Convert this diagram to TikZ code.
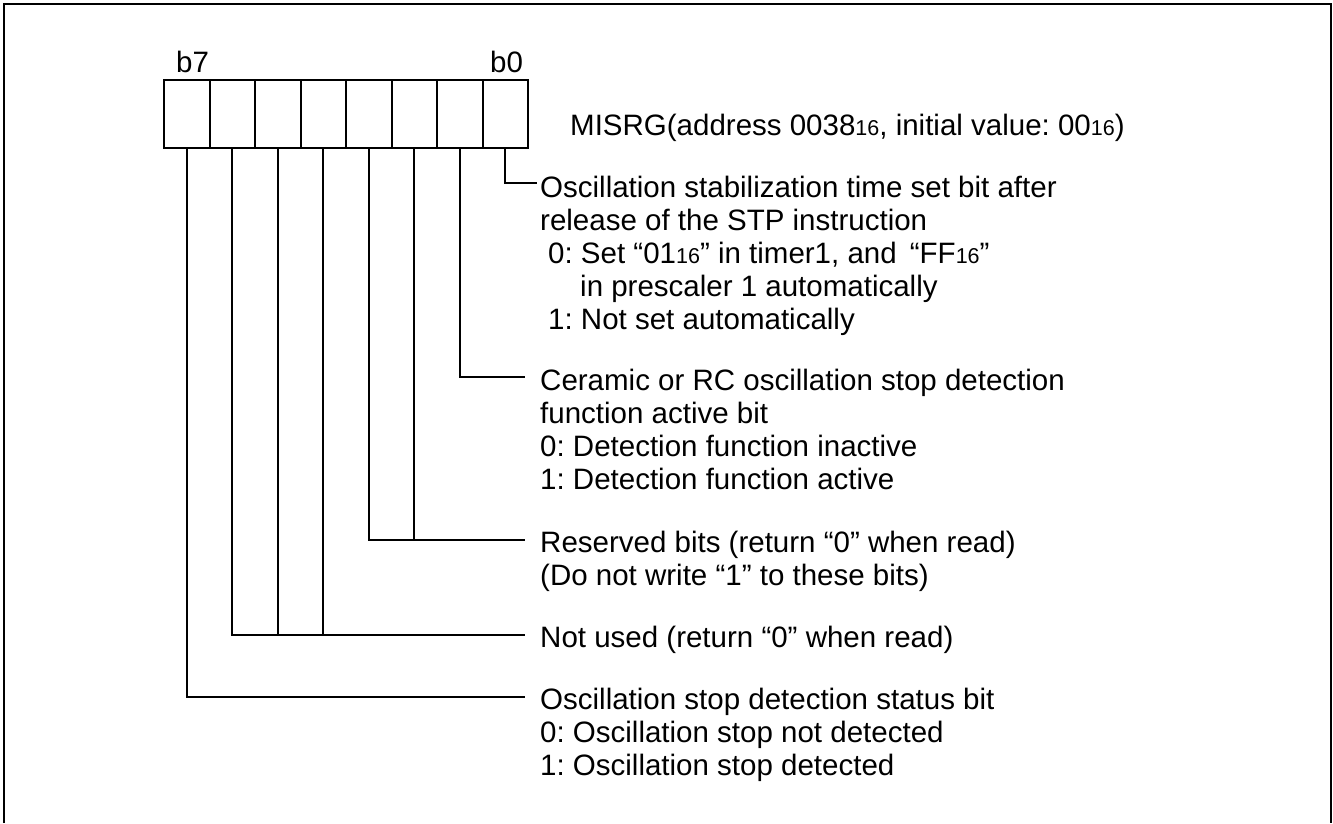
\documentclass[tikz,border=0pt]{standalone}
\usepackage{fontspec}
\setmainfont{Liberation Sans}
\frenchspacing
\newcommand\hexs[1]{{\fontsize{21.5}{21.5}\selectfont #1}}
\begin{document}
\begin{tikzpicture}[x=1pt,y=-1pt,
  lbl/.style={anchor=base west,inner sep=0pt,font=\fontsize{29.5}{33}\selectfont},
  cellbox/.style={draw,line width=2pt,minimum width=45.5pt,minimum height=68pt,inner sep=0pt,anchor=north west},
  conn/.style={line width=1.8pt},
  frameline/.style={line width=2.2pt}]
\useasboundingbox (0,0) rectangle (1333,823);
% frame (open at the bottom)
\draw[frameline] (4,823) -- (4,4) -- (1331,4) -- (1331,823);
% register cells
\foreach \i in {0,...,7}{
  \node[cellbox] (c\i) at ({163+45.5*(7-\i)},79) {};
}
\node[lbl] (lb7) at (176,72) {b7};
\node[lbl] (lb0) at (490,72) {b0};
\node[lbl] (title) at (570,135) {MISRG(address 0038\hexs{16}, initial value: 00\hexs{16})};
% block b0
\node[lbl] (t1) at (540,197) {Oscillation stabilization time set bit after};
\node[lbl] (t2) at (540,230) {release of the STP instruction};
\node[lbl] (t3) at (548,263) {0: Set “01\hexs{16}” in timer1, and \,“FF\hexs{16}”};
\node[lbl] (t4) at (580,296) {in prescaler 1 automatically};
\node[lbl] (t5) at (548,329) {1: Not set automatically};
% block b1
\node[lbl] (u1) at (540,390) {Ceramic or RC oscillation stop detection};
\node[lbl] (u2) at (540,423) {function active bit};
\node[lbl] (u3) at (540,456) {0: Detection function inactive};
\node[lbl] (u4) at (540,489) {1: Detection function active};
% block b2-b3
\node[lbl] (v1) at (540,552) {Reserved bits (return “0” when read)};
\node[lbl] (v2) at (540,585) {(Do not write “1” to these bits)};
% block b4-b6
\node[lbl] (w1) at (540,647) {Not used (return “0” when read)};
% block b7
\node[lbl] (x1) at (540,709) {Oscillation stop detection status bit};
\node[lbl] (x2) at (540,742) {0: Oscillation stop not detected};
\node[lbl] (x3) at (540,775) {1: Oscillation stop detected};
% connector end points
\coordinate (e0) at ([shift={(-3,-14)}]t1.base west);
\coordinate (e1) at ([shift={(-15,-13)}]u1.base west);
\coordinate (e2) at ([shift={(-15,-12)}]v1.base west);
\coordinate (e4) at ([shift={(-15,-12)}]w1.base west);
\coordinate (e7) at ([shift={(-15,-12)}]x1.base west);
% connectors
\draw[conn] (c0.south) |- (e0);
\draw[conn] (c1.south) |- (e1);
\draw[conn] (c3.south) |- (e2);
\draw[conn] (c2.south) -- (c2.south |- e2);
\draw[conn] (c6.south) |- (e4);
\draw[conn] (c5.south) -- (c5.south |- e4);
\draw[conn] (c4.south) -- (c4.south |- e4);
\draw[conn] (c7.south) |- (e7);
\end{tikzpicture}
\end{document}
